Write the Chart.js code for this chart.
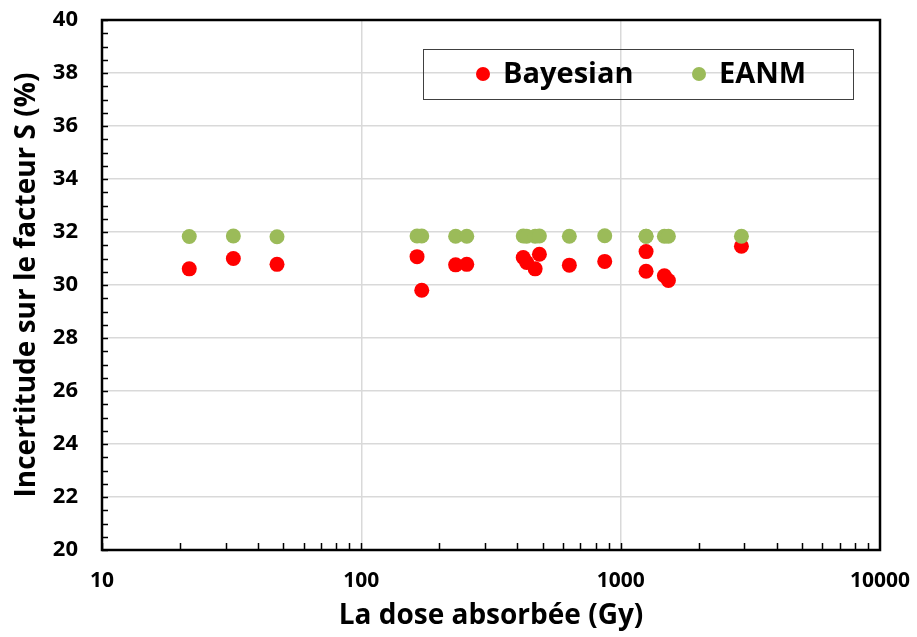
<!DOCTYPE html>
<html>
<head>
<meta charset="utf-8">
<script src="https://cdn.jsdelivr.net/npm/chart.js@4"></script>
<style>
  body { margin: 0; background: #fff; }
  #wrap { width: 917px; height: 637px; }
</style>
</head>
<body>
<div id="wrap"><canvas id="doseChart" width="917" height="637"></canvas></div>
<script>
// Absorbed dose (Gy) for each measurement
const doses = [21.7, 32.1, 47.3, 164, 171, 231, 255, 421, 434, 468, 486, 634, 868, 1253, 1253, 1474, 1528, 2922];
// Uncertainty on S factor (%)
const bayesian = [30.61, 31.00, 30.78, 31.07, 29.80, 30.76, 30.78, 31.04, 30.85, 30.61, 31.16, 30.75, 30.89, 31.26, 30.52, 30.35, 30.17, 31.46];
const eanm = [31.83, 31.85, 31.82, 31.85, 31.85, 31.84, 31.84, 31.85, 31.84, 31.84, 31.85, 31.84, 31.86, 31.84, 31.84, 31.84, 31.84, 31.84];
const xTicks = [10, 100, 1000, 10000];

const FONT = '"Open Sans", "DejaVu Sans", sans-serif';

function toPoints(ys) {
    return doses.map((d, i) => ({ x: d, y: ys[i] }));
}

// frame, inward ticks and the boxed legend
const framePlugin = {
    id: 'frame',
    afterDraw(chart) {
        const ctx = chart.ctx;
        const area = chart.chartArea;
        const xs = chart.scales.x;
        const ys = chart.scales.y;
        ctx.save();
        ctx.strokeStyle = '#000';
        ctx.lineWidth = 1.5;
        ctx.beginPath();
        // minor ticks on y every 0.5
        for (let v = ys.min; v <= ys.max; v += 0.5) {
            const py = Math.round(ys.getPixelForValue(v)) + 0.5;
            ctx.moveTo(area.left, py);
            ctx.lineTo(area.left + 6, py);
        }
        // minor ticks on x inside each decade
        for (let d = 10; d < 10000; d *= 10) {
            for (let k = 1; k <= 9; k++) {
                const px = Math.round(xs.getPixelForValue(d * k)) + 0.5;
                ctx.moveTo(px, area.bottom);
                ctx.lineTo(px, area.bottom - 7);
            }
        }
        ctx.stroke();
        ctx.lineWidth = 2.5;
        ctx.strokeRect(area.left, area.top, area.right - area.left, area.bottom - area.top);

        // legend box
        ctx.lineWidth = 1;
        ctx.strokeStyle = '#404040';
        ctx.strokeRect(423.5, 49.5, 430, 50);
        const items = [
            { ds: chart.data.datasets[0], dot: 483, text: 503 },
            { ds: chart.data.datasets[1], dot: 699, text: 719 }
        ];
        ctx.font = 'bold 29px ' + FONT;
        ctx.textBaseline = 'middle';
        ctx.textAlign = 'left';
        items.forEach(it => {
            ctx.fillStyle = it.ds.backgroundColor;
            ctx.beginPath();
            ctx.arc(it.dot, 74, 7, 0, Math.PI * 2);
            ctx.fill();
            ctx.fillStyle = '#000';
            ctx.fillText(it.ds.label, it.text, 75);
        });
        ctx.restore();
    }
};

const ctx = document.getElementById('doseChart').getContext('2d');
new Chart(ctx, {
    type: 'scatter',
    data: {
        datasets: [{
            label: 'Bayesian',
            data: toPoints(bayesian),
            backgroundColor: '#ff0000',
            borderWidth: 0,
            pointRadius: 7.5,
            order: 2
        }, {
            label: 'EANM',
            data: toPoints(eanm),
            backgroundColor: '#9bbb59',
            borderWidth: 0,
            pointRadius: 7.5,
            order: 1
        }]
    },
    options: {
        responsive: false,
        animation: false,
        layout: { padding: { left: 0, right: 37, top: 20, bottom: 0 } },
        plugins: {
            legend: { display: false },
            tooltip: { enabled: false }
        },
        scales: {
            x: {
                type: 'logarithmic',
                min: 10,
                max: 10000,
                afterBuildTicks: scale => { scale.ticks = xTicks.map(v => ({ value: v })); },
                afterFit: scale => {
                    scale.height = 87;
                    scale.paddingLeft = 0;
                    scale.paddingRight = 0;
                },
                grid: { color: '#d9d9d9', lineWidth: 1.5, drawTicks: false },
                border: { display: false },
                ticks: {
                    color: '#000',
                    padding: 18,
                    maxRotation: 0,
                    font: { family: FONT, size: 21, weight: 'bold' },
                    callback: v => String(v)
                },
                title: {
                    display: true,
                    text: 'La dose absorbée (Gy)',
                    color: '#000',
                    padding: { top: 0, bottom: 4 },
                    font: { family: FONT, size: 28, weight: 'bold' }
                }
            },
            y: {
                min: 20,
                max: 40,
                afterFit: scale => {
                    scale.width = 102;
                    scale.paddingTop = 0;
                    scale.paddingBottom = 0;
                },
                grid: { color: '#d9d9d9', lineWidth: 1.5, drawTicks: false },
                border: { display: false },
                ticks: {
                    stepSize: 2,
                    color: '#000',
                    padding: 24,
                    font: { family: FONT, size: 22, weight: 'bold' }
                },
                title: {
                    display: true,
                    text: 'Incertitude sur le facteur S (%)',
                    color: '#000',
                    padding: { top: 10, bottom: 0 },
                    font: { family: FONT, size: 28, weight: 'bold' }
                }
            }
        }
    },
    plugins: [framePlugin]
});
</script>
</body>
</html>
